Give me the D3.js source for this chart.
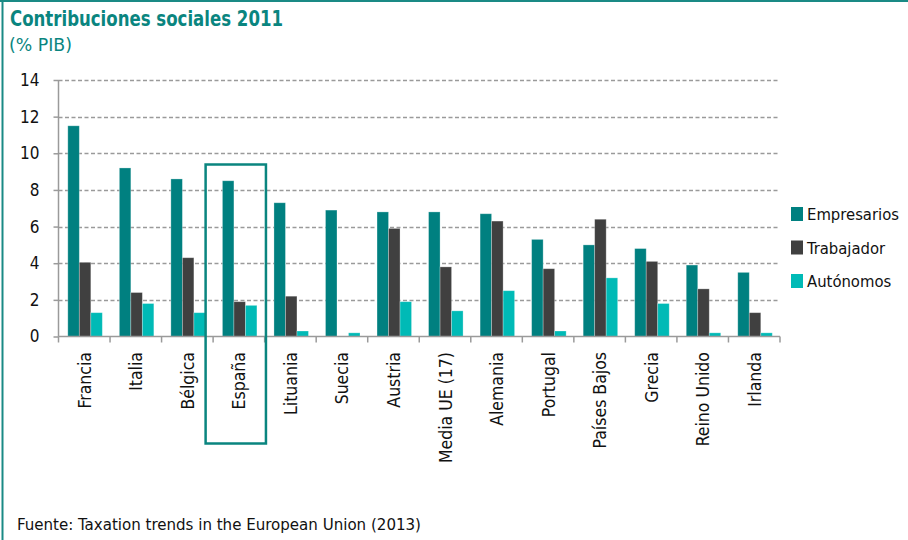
<!DOCTYPE html>
<html>
<head>
<meta charset="utf-8">
<script src="https://cdn.jsdelivr.net/npm/d3@7"></script>
<style>
  html, body { margin: 0; padding: 0; background: #fff; }
  svg { display: block; }
  text { font-family: "DejaVu Sans Condensed", "Roboto", sans-serif; }
</style>
</head>
<body>
<svg id="chart" width="908" height="540"></svg>
<script>
const categories = ["Francia", "Italia", "Bélgica", "España", "Lituania", "Suecia", "Austria", "Media UE (17)", "Alemania", "Portugal", "Países Bajos", "Grecia", "Reino Unido", "Irlanda"];
const seriesNames = ["Empresarios", "Trabajador", "Autónomos"];
const empresarios = [11.5, 9.2, 8.6, 8.5, 7.3, 6.9, 6.8, 6.8, 6.7, 5.3, 5.0, 4.8, 3.9, 3.5];
const trabajador  = [4.05, 2.4, 4.3, 1.9, 2.2, 0, 5.9, 3.8, 6.3, 3.7, 6.4, 4.1, 2.6, 1.3];
const autonomos   = [1.3, 1.8, 1.3, 1.7, 0.3, 0.2, 1.9, 1.4, 2.5, 0.3, 3.2, 1.8, 0.2, 0.2];
const yTicks = [0, 2, 4, 6, 8, 10, 12, 14];
const highlighted = "España";

const colors = ["#008080", "#404040", "#00BAB6"];
const seriesValues = [empresarios, trabajador, autonomos];

const svg = d3.select("#chart");
const margin = { left: 58.5, right: 780, top: 80, bottom: 336.5 };

// frame
svg.append("line").attr("x1", 0).attr("x2", 908).attr("y1", 1).attr("y2", 1)
  .attr("stroke", "#1a8a85").attr("stroke-width", 2);
svg.append("line").attr("x1", 2.5).attr("x2", 2.5).attr("y1", 0).attr("y2", 540)
  .attr("stroke", "#1a8a85").attr("stroke-width", 2);

// title
svg.append("text").attr("x", 10).attr("y", 26)
  .attr("fill", "#0a857f").attr("font-size", 21).attr("font-weight", "bold")
  .attr("textLength", 273).attr("lengthAdjust", "spacingAndGlyphs")
  .text("Contribuciones sociales 2011");
svg.append("text").attr("x", 9).attr("y", 51)
  .attr("fill", "#0a857f").attr("font-size", 18)
  .attr("textLength", 63).attr("lengthAdjust", "spacingAndGlyphs")
  .text("(% PIB)");

const x = d3.scaleBand().domain(categories).range([margin.left, margin.right]).paddingInner(0).paddingOuter(0);
const y = d3.scaleLinear().domain([0, 14]).range([margin.bottom, margin.top]);
const xs = d3.scaleBand().domain(seriesNames).range([0.8, x.bandwidth() + 0.8]).paddingInner(0).paddingOuter(0.74);

// gridlines
svg.append("g").selectAll("line").data(yTicks.filter(d => d > 0)).join("line")
  .attr("x1", margin.left).attr("x2", margin.right)
  .attr("y1", d => Math.round(y(d)) + 0.5).attr("y2", d => Math.round(y(d)) + 0.5)
  .attr("stroke", "#9a9a9a").attr("stroke-width", 1.3).attr("stroke-dasharray", "4,2.5");

// y axis
const yAxis = d3.axisLeft(y).tickValues(yTicks).tickSize(5).tickPadding(14).tickFormat(d3.format("d"));
const gy = svg.append("g").attr("transform", `translate(${margin.left},0)`).call(yAxis);
gy.select(".domain").attr("stroke", "#9a9a9a").attr("stroke-width", 1.5).attr("d", `M0,${margin.top}V${margin.bottom}`);
gy.selectAll(".tick line").attr("stroke", "#9a9a9a").attr("stroke-width", 1.5);
gy.selectAll(".tick text").attr("font-size", 17).attr("fill", "#111")
  .style("font-family", '"DejaVu Sans Condensed", sans-serif');

// bars
const groups = svg.append("g").selectAll("g").data(categories).join("g")
  .attr("transform", d => `translate(${x(d)},0)`);
groups.selectAll("rect").data((c, i) => seriesNames.map((s, j) => ({ s, j, v: seriesValues[j][i] })))
  .join("rect")
  .attr("x", d => xs(d.s))
  .attr("width", xs.bandwidth())
  .attr("y", d => y(d.v))
  .attr("height", d => y(0) - y(d.v))
  .attr("fill", d => colors[d.j])
  .attr("stroke", d => d.v > 0 ? "rgba(255,255,255,0.35)" : "none")
  .attr("stroke-width", 0.8);

// x axis
const xBoundaries = categories.map(c => x(c)).concat([margin.right]);
const gx = svg.append("g");
gx.append("line").attr("x1", margin.left).attr("x2", margin.right)
  .attr("y1", margin.bottom).attr("y2", margin.bottom)
  .attr("stroke", "#9a9a9a").attr("stroke-width", 1.5);
gx.selectAll("line.tk").data(xBoundaries).join("line").attr("class", "tk")
  .attr("x1", d => d).attr("x2", d => d)
  .attr("y1", margin.bottom).attr("y2", margin.bottom + 6)
  .attr("stroke", "#9a9a9a").attr("stroke-width", 1.5);
gx.selectAll("text").data(categories).join("text")
  .attr("transform", d => `translate(${x(d) + x.bandwidth() / 2 + 6.5},352) rotate(-90)`)
  .attr("text-anchor", "end")
  .attr("font-size", 17.5).attr("fill", "#111")
  .text(d => d);

// highlight box
const hx = x(highlighted);
svg.append("rect")
  .attr("x", hx - 7.5).attr("y", 164.5)
  .attr("width", x.bandwidth() + 8.8).attr("height", 279)
  .attr("fill", "none").attr("stroke", "#0a857f").attr("stroke-width", 2.5);

// legend
const legend = svg.append("g").selectAll("g").data(seriesNames).join("g")
  .attr("transform", (d, i) => `translate(791,${207 + i * 33.5})`);
legend.append("rect").attr("width", 12).attr("height", 14).attr("fill", (d, i) => colors[i]);
legend.append("text").attr("x", 16).attr("y", 13).attr("font-size", 16.5).attr("fill", "#111")
  .text(d => d);

// source
svg.append("text").attr("x", 17).attr("y", 530).attr("font-size", 16).attr("fill", "#111")
  .attr("textLength", 404).attr("lengthAdjust", "spacingAndGlyphs")
  .text("Fuente:  Taxation trends in the European Union (2013)");
</script>
</body>
</html>
